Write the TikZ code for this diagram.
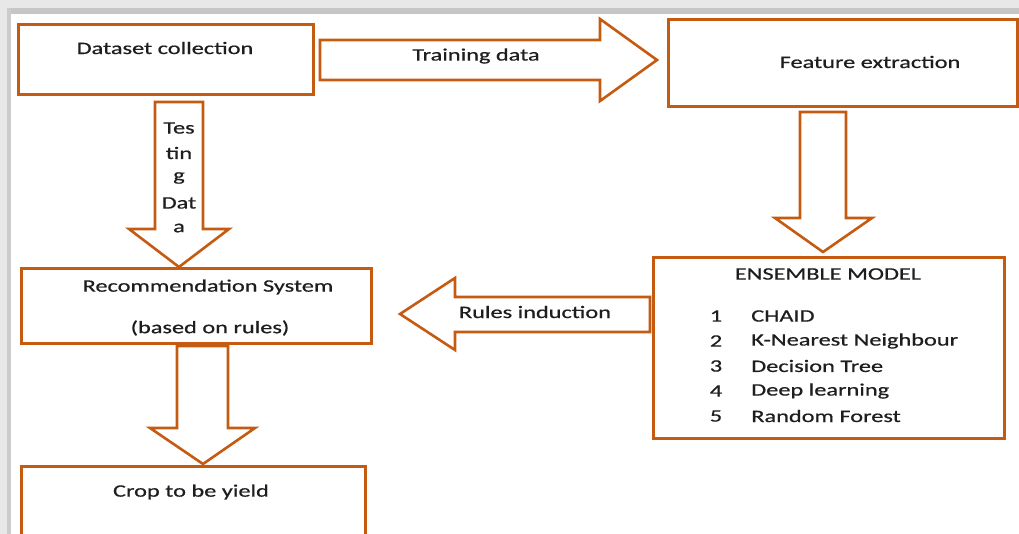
\documentclass[tikz,border=0pt]{standalone}
\usepackage{fontspec}
\setmainfont{Carlito}
\newfontfamily\lblfont{Carlito}[FakeBold=0.5]
\definecolor{orng}{HTML}{C55A11}
\definecolor{txt}{HTML}{1E1E1E}
\begin{document}
\begin{tikzpicture}[x=1pt,y=-1pt,
  box/.style={draw=orng,line width=2.6pt,fill=white,inner sep=0pt,anchor=north west},
  barrow/.style={draw=orng,line width=2.6pt,fill=white,line join=miter},
  lbl/.style={text=txt,font=\lblfont\fontsize{17.5}{20}\selectfont,inner sep=0pt,xscale=1.39}]
\clip (0,0) rectangle (1019,534);
\fill[white] (0,0) rectangle (1019,534);
% grey frame shadow
\fill[gray!18] (0,0) rectangle (1019,14);
\fill[gray!45] (8,8) rectangle (1019,14);
\fill[gray!18] (0,0) rectangle (11,534);
\fill[gray!40] (7,8) rectangle (11,534);
% boxes
\node[box,minimum width=295pt,minimum height=70pt] (ds) at (17,23) {};
\node[box,minimum width=349pt,minimum height=87pt] (fe) at (667,18) {};
\node[box,minimum width=351pt,minimum height=181pt] (em) at (652,256) {};
\node[box,minimum width=350pt,minimum height=75pt] (rs) at (20,267) {};
\node[box,minimum width=344pt,minimum height=90pt] (cy) at (20,465) {};
% block arrows
\draw[barrow] (320,40) -- (600,40) -- (600,19) -- (657,60) -- (600,101) -- (600,80) -- (320,80) -- cycle;
\draw[barrow] (800,112) -- (846,112) -- (846,218) -- (872,218) -- (823,252) -- (775,218) -- (800,218) -- cycle;
\draw[barrow] (155,102) -- (203,102) -- (203,229) -- (229,229) -- (179,267) -- (129,229) -- (155,229) -- cycle;
\draw[barrow] (650,297) -- (455,297) -- (455,278) -- (400,314) -- (455,350) -- (455,332) -- (650,332) -- cycle;
\draw[barrow] (177,346) -- (228,346) -- (228,428) -- (255,428) -- (203,464) -- (150,428) -- (177,428) -- cycle;
% texts
\node[lbl] (t1) at (165,48) {Dataset collection};
\node[lbl] (t2) at (476,56) {Training data};
\node[lbl] (t3) at (870,62) {Feature extraction};
\node[lbl] (t4) at (179,128) {Tes};
\node[lbl] (t5) at (179,153) {tin};
\node[lbl] (t6) at (179,178) {g};
\node[lbl] (t7) at (179,203) {Dat};
\node[lbl] (t8) at (179,228) {a};
\node[lbl] (t9) at (828,274) {ENSEMBLE MODEL};
\node[lbl] (n1) at (716,316) {1};
\node[lbl] (n2) at (716,341) {2};
\node[lbl] (n3) at (716,366) {3};
\node[lbl] (n4) at (716,391) {4};
\node[lbl] (n5) at (716,416) {5};
\node[lbl,anchor=west] (i1) at (751,316) {CHAID};
\node[lbl,anchor=west] (i2) at (751,341) {K-Nearest Neighbour};
\node[lbl,anchor=west] (i3) at (751,366) {Decision Tree};
\node[lbl,anchor=west] (i4) at (751,391) {Deep learning};
\node[lbl,anchor=west] (i5) at (751,416) {Random Forest};
\node[lbl] (t10) at (208,287) {Recommendation System};
\node[lbl] (t11) at (210,328) {(based on rules)};
\node[lbl] (t12) at (535,312) {Rules induction};
\node[lbl] (t13) at (191,492) {Crop to be yield};
\end{tikzpicture}
\end{document}
